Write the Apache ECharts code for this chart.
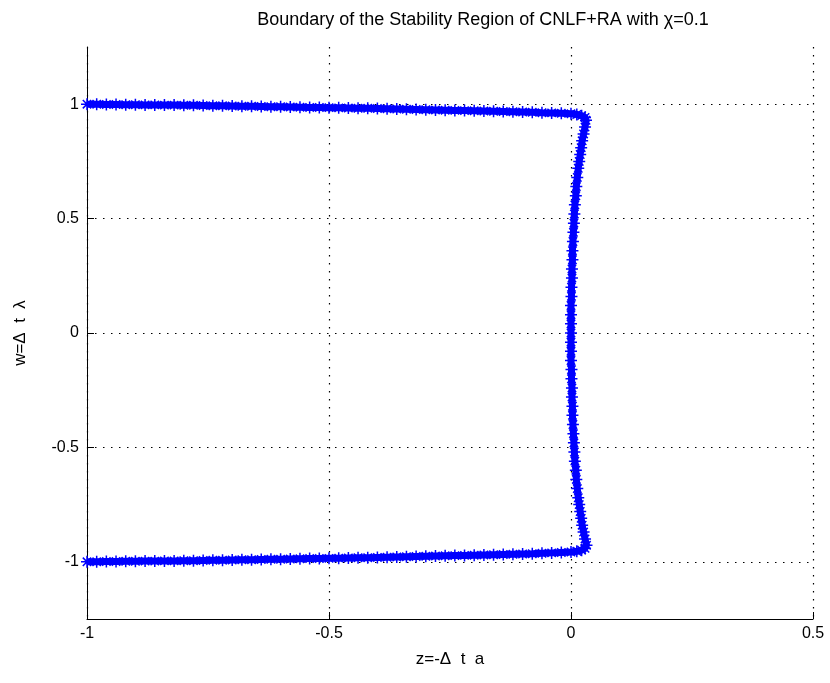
<!DOCTYPE html>
<html>
<head>
<meta charset="utf-8">
<script src="https://cdn.jsdelivr.net/npm/echarts@6/dist/echarts.min.js"></script>
<style>
html,body{margin:0;padding:0;background:#fff;}
#chart{width:830px;height:683px;}
</style>
</head>
<body>
<div id="chart"></div>
<script>
// ---- data ----
const titleText = 'Boundary of the Stability Region of CNLF+RA with \u03c7=0.1';
const xLabel = 'z=-\u0394  t  a';
const yLabel = 'w=\u0394  t  \u03bb';
const xTicks = [-1, -0.5, 0, 0.5];
const yTicks = [-1, -0.5, 0, 0.5, 1];

// top and bottom horizontal edges, shared x positions
const edgeX = [-1.00,-0.98,-0.96,-0.94,-0.92,-0.90,-0.88,-0.86,-0.84,-0.82,
  -0.80,-0.78,-0.76,-0.74,-0.72,-0.70,-0.68,-0.66,-0.64,-0.62,
  -0.60,-0.58,-0.56,-0.54,-0.52,-0.50,-0.48,-0.46,-0.44,-0.42,
  -0.40,-0.38,-0.36,-0.34,-0.32,-0.30,-0.28,-0.26,-0.24,-0.22,
  -0.20,-0.18,-0.16,-0.14,-0.12,-0.10,-0.08,-0.06,-0.04,-0.02,0.00];
const topY = [1.000,1.000,0.999,0.999,0.998,0.998,0.997,0.997,0.996,0.996,
  0.995,0.995,0.994,0.993,0.993,0.992,0.991,0.991,0.990,0.989,
  0.989,0.988,0.987,0.986,0.986,0.985,0.984,0.983,0.982,0.982,
  0.981,0.980,0.979,0.978,0.977,0.976,0.975,0.974,0.973,0.972,
  0.971,0.970,0.969,0.968,0.967,0.966,0.965,0.963,0.962,0.960,0.958];
const bottomY = [-1.000,-1.000,-0.999,-0.999,-0.998,-0.998,-0.997,-0.997,-0.996,-0.996,
  -0.995,-0.995,-0.994,-0.993,-0.993,-0.992,-0.991,-0.991,-0.990,-0.989,
  -0.989,-0.988,-0.987,-0.986,-0.986,-0.985,-0.984,-0.983,-0.982,-0.982,
  -0.981,-0.980,-0.979,-0.978,-0.977,-0.976,-0.975,-0.974,-0.973,-0.972,
  -0.971,-0.970,-0.969,-0.968,-0.967,-0.966,-0.965,-0.963,-0.961,-0.959,-0.957];

// right-hand side, upper half (from top corner down to w=0)
const upperSideX = [0.012,0.022,0.029,0.031,0.029,0.026,0.023,0.021,0.019,0.017,0.015,0.013,0.011,0.010,
  0.008,0.007,0.006,0.005,0.004,0.003,0.003,0.002,0.002,0.001,0.001,0.000,0.000,0.000,0.000];
const upperSideY = [0.955,0.950,0.942,0.930,0.900,0.870,0.840,0.810,0.780,0.750,0.720,0.680,0.640,0.600,
  0.560,0.520,0.480,0.440,0.400,0.360,0.320,0.280,0.240,0.200,0.160,0.120,0.080,0.040,0.000];
// right-hand side, lower half (from w=0 down to the bottom corner)
const lowerSideX = [0.000,0.000,0.000,0.001,0.001,0.002,0.002,0.003,0.003,0.004,0.005,0.006,0.007,0.008,
  0.010,0.011,0.013,0.015,0.017,0.019,0.021,0.023,0.026,0.029,0.032,0.029,0.022,0.012];
const lowerSideY = [-0.040,-0.080,-0.120,-0.160,-0.200,-0.240,-0.280,-0.320,-0.360,-0.400,-0.440,-0.480,-0.520,-0.560,
  -0.600,-0.640,-0.680,-0.720,-0.750,-0.780,-0.810,-0.840,-0.870,-0.900,-0.928,-0.941,-0.949,-0.954];

// ---- build the boundary in drawing order ----
const boundary = [];
for (let i = 0; i < edgeX.length; i++) boundary.push([edgeX[i], topY[i]]);
for (let i = 0; i < upperSideX.length; i++) boundary.push([upperSideX[i], upperSideY[i]]);
for (let i = 0; i < lowerSideX.length; i++) boundary.push([lowerSideX[i], lowerSideY[i]]);
for (let i = edgeX.length - 1; i >= 0; i--) boundary.push([edgeX[i], bottomY[i]]);

const FONT = '"Liberation Sans", Arial, Helvetica, sans-serif';
const gridLine = { show: true, lineStyle: { color: '#000', width: 1.2, type: [1.5, 6.5] } };
const asterisk = 'path://M5 0L5 10M0 5L10 5M1.5 1.5L8.5 8.5M8.5 1.5L1.5 8.5';

const chart = echarts.init(document.getElementById('chart'), null, { renderer: 'canvas' });
chart.setOption({
  backgroundColor: '#fff',
  animation: false,
  title: {
    text: titleText,
    left: 478, top: 6, textAlign: 'center',
    textStyle: { fontFamily: FONT, fontSize: 18, fontWeight: 'normal', color: '#000' }
  },
  grid: { left: 87, right: 17, top: 47, bottom: 64, containLabel: false },
  xAxis: {
    type: 'value', min: -1, max: 0.5, interval: 0.5,
    name: xLabel, nameLocation: 'middle', nameGap: 32,
    nameTextStyle: { fontFamily: FONT, fontSize: 17, color: '#000' },
    axisLine: { show: true, onZero: false, lineStyle: { color: '#000', width: 1 } },
    axisTick: { show: true, inside: true, length: 7, lineStyle: { color: '#000' }, customValues: xTicks },
    axisLabel: { show: true, customValues: xTicks, margin: 7, fontFamily: FONT, fontSize: 16, color: '#000',
      formatter: v => String(v) },
    splitLine: gridLine
  },
  yAxis: {
    type: 'value', min: -1.25, max: 1.25, interval: 0.25,
    name: yLabel, nameLocation: 'middle', nameGap: 58, nameRotate: 90,
    nameTextStyle: { fontFamily: FONT, fontSize: 17, color: '#000' },
    axisLine: { show: true, onZero: false, lineStyle: { color: '#000', width: 1 } },
    axisTick: { show: true, inside: true, length: 7, lineStyle: { color: '#000' }, customValues: yTicks },
    axisLabel: { show: true, customValues: yTicks, margin: 8, fontFamily: FONT, fontSize: 16, color: '#000',
      formatter: v => String(v) },
    splitLine: gridLine
  },
  series: [{
    type: 'line',
    data: boundary,
    showSymbol: true,
    showAllSymbol: true,
    symbol: asterisk,
    symbolSize: 12,
    lineStyle: { color: '#0000ff', width: 7 },
    itemStyle: { color: '#0000ff', borderColor: '#0000ff', borderWidth: 1.5 },
    z: 5
  }]
});
</script>
</body>
</html>
